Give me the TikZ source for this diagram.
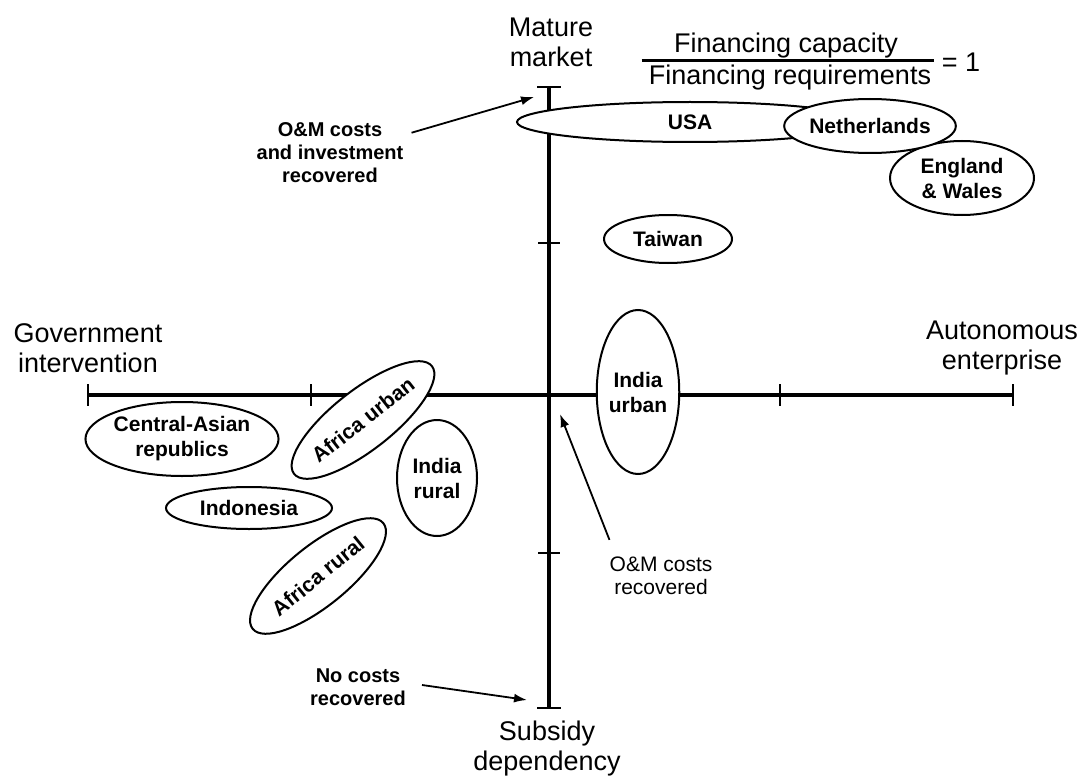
\documentclass[tikz,border=0pt]{standalone}
\usepackage{fontspec}
\setmainfont{Liberation Sans}
\usetikzlibrary{shapes.geometric,arrows.meta}
\begin{document}
\begin{tikzpicture}[x=1pt,y=-1pt,
    axis/.style={line width=4pt},
    tick/.style={line width=2.5pt},
    bigtext/.style={align=center,inner sep=0pt,font=\fontsize{27}{30}\selectfont},
    country/.style={ellipse,draw,line width=2pt,fill=white,inner sep=0pt,align=center,font=\bfseries\fontsize{21}{25}\selectfont},
    note/.style={align=center,inner sep=0pt,font=\bfseries\fontsize{20}{23}\selectfont},
    pointer/.style={line width=1.8pt,-{Latex[length=13pt,width=9pt]}}]
    \useasboundingbox (0,0) rectangle (1083,778);

    % axes
    \coordinate (W) at (88,395);
    \coordinate (E) at (1013,395);
    \coordinate (N) at (549,87);
    \coordinate (S) at (549,708);
    \draw[axis] (W) -- (E);
    \draw[axis] (N) -- (S);
    \foreach \x in {88,311,780,1013}
        \draw[tick] (\x,384) -- (\x,406);
    \foreach \y in {243,553}
        \draw[tick] (538,\y) -- (560,\y);
    \draw[tick] (537,87) -- (561,87);
    \draw[tick] (537,708) -- (561,708);

    % axis labels
    \node[bigtext] (mature) at (551,42) {Mature\\market};
    \node[bigtext] (govt) at (88,348) {Government\\intervention};
    \node[bigtext] (auto) at (1002,348) {Autonomous\\enterprise};
    \node[bigtext] (subsidy) at (547,749) {Subsidy\\dependency};

    % ratio
    \node[bigtext,anchor=base] (cap) at (786,53) {Financing capacity};
    \node[bigtext,anchor=base] (req) at (790,85) {Financing requirements};
    \draw[line width=3pt] ([xshift=-7pt,yshift=5pt]req.north west) -- ([xshift=3pt,yshift=5pt]req.north east);
    \node[bigtext,anchor=base] (one) at (961,72) {= 1};

    % countries
    \node[country,minimum width=346pt,minimum height=40pt] (usa) at (690,122) {USA};
    \node[country,minimum width=144pt,minimum height=74pt] (engl) at (962,178) {England\\\& Wales};
    \node[country,minimum width=142pt,minimum height=54pt] (neth) at (870,126) {Netherlands};
    \node[country,minimum width=128pt,minimum height=48pt] (taiwan) at (668,239) {Taiwan};
    \node[country,minimum width=76pt,minimum height=164pt] (indurb) at (638,392) {India\\urban};
    \node[country,minimum width=80pt,minimum height=116pt] (indrur) at (437,478) {India\\rural};
    \node[country,minimum width=168pt,minimum height=60pt,rotate=38] (afurb) at (363,420) {Africa urban};
    \node[country,minimum width=168pt,minimum height=60pt,rotate=39] (afrur) at (318,576) {Africa rural};
    \node[country,minimum width=176pt,minimum height=74pt] (casia) at (182,439) {Central-Asian\\republics};
    \node[country,minimum width=166pt,minimum height=42pt] (indo) at (249,508) {Indonesia};

    % cost recovery notes
    \node[note] (omtop) at (330,153) {O\&M costs\\and investment\\recovered};
    \node[note,font=\fontsize{21}{23}\selectfont] (omlow) at (661,576) {O\&M costs\\recovered};
    \node[note] (nocost) at (358,687) {No costs\\recovered};
    \coordinate (invtip) at (534,97);
    \coordinate (omtip) at (560,414);
    \coordinate (notip) at (527,700);
    \draw[pointer] ([xshift=8pt,yshift=-10pt]omtop.north east) -- (invtip);
    \draw[pointer] ([yshift=17pt]omlow.north west) -- (omtip);
    \draw[pointer] ([xshift=16pt,yshift=2pt]nocost.east) -- (notip);
\end{tikzpicture}
\end{document}
